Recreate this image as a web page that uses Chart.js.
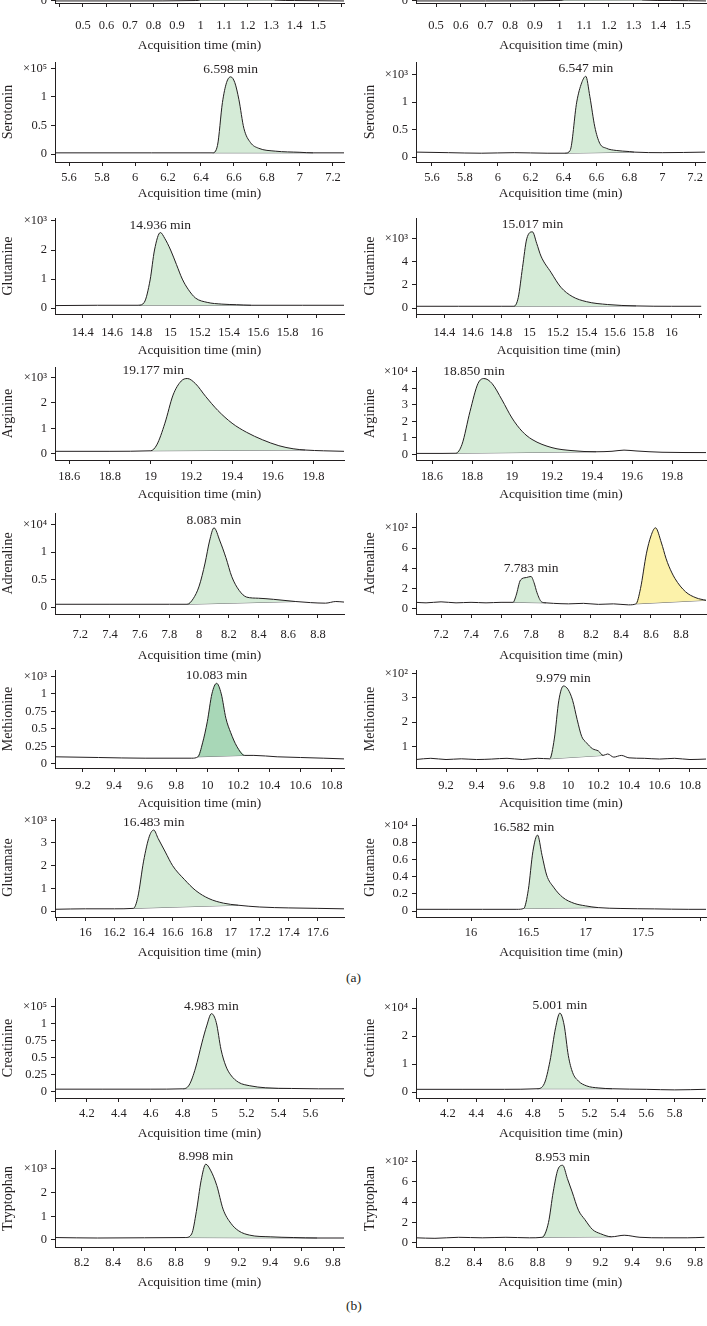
<!DOCTYPE html>
<html lang="en">
<head>
<meta charset="UTF-8">
<title>Chromatograms</title>
<script src="https://cdn.jsdelivr.net/npm/chart.js"></script>
<style>
  body { margin: 0; background: #fff; width: 707px; height: 1326px; position: relative; overflow: hidden; }
  .tag { position: absolute; font: 13.5px "Liberation Serif", serif; color: #231f20; }
</style>
</head>
<body>
<div class="tag" style="left:346px;top:970px">(a)</div>
<div class="tag" style="left:346px;top:1298px">(b)</div>
<script>
// retention time (min) and intensity (in units of the axis multiplier)
const topA_t = [0.381, 0.7, 0.98, 1.0, 1.04, 1.08, 1.12, 1.17, 1.22, 1.27, 1.3, 1.32, 1.4, 1.61];
const topA_y = [0, 0, 0.01, 0.04, 0.3, 1.5, 4, 6, 4, 1.2, 0.2, 0.02, 0.01, 0];
const topB_t = [0.419, 0.7, 0.99, 1.02, 1.06, 1.1, 1.14, 1.19, 1.24, 1.29, 1.32, 1.34, 1.45, 1.593];
const topB_y = [0, 0, 0.01, 0.04, 0.3, 1.5, 4, 6, 4, 1.2, 0.2, 0.02, 0.01, 0];
const topTicks = ['0.5', '0.6', '0.7', '0.8', '0.9', '1', '1.1', '1.2', '1.3', '1.4', '1.5'];

const serotoninA_t = [5.515, 5.8, 6.1, 6.4, 6.47, 6.5, 6.53, 6.555, 6.58, 6.605, 6.63, 6.66, 6.7, 6.75, 6.85, 7.0, 7.08, 7.267];
const serotoninA_y = [0.02, 0.02, 0.02, 0.02, 0.02, 0.15, 0.9, 1.25, 1.35, 1.25, 0.95, 0.45, 0.2, 0.1, 0.05, 0.03, 0.02, 0.02];
const serotoninB_t = [5.503, 5.7, 5.9, 6.1, 6.3, 6.41, 6.44, 6.48, 6.51, 6.535, 6.56, 6.59, 6.62, 6.66, 6.72, 6.8, 6.83, 7.0, 7.26];
const serotoninB_y = [0.09, 0.08, 0.07, 0.08, 0.07, 0.07, 0.12, 1.0, 1.35, 1.47, 1.1, 0.55, 0.25, 0.16, 0.12, 0.1, 0.09, 0.08, 0.09];
const serotoninTicks = ['5.6', '5.8', '6', '6.2', '6.4', '6.6', '6.8', '7', '7.2'];

const glutamineA_t = [14.21, 14.5, 14.78, 14.82, 14.86, 14.89, 14.93, 14.96, 15.0, 15.04, 15.08, 15.12, 15.17, 15.25, 15.35, 15.45, 15.55, 15.9, 16.185];
const glutamineA_y = [0.09, 0.1, 0.1, 0.2, 0.97, 2.0, 2.6, 2.4, 2.0, 1.5, 1.0, 0.65, 0.35, 0.2, 0.14, 0.12, 0.1, 0.1, 0.1];
const glutamineB_t = [14.2, 14.5, 14.8, 14.89, 14.92, 14.95, 14.98, 15.02, 15.05, 15.08, 15.15, 15.22, 15.3, 15.4, 15.55, 15.75, 16.0, 16.21];
const glutamineB_y = [0.15, 0.15, 0.15, 0.15, 0.9, 3.5, 6.0, 6.6, 5.6, 4.5, 3.1, 1.8, 1.0, 0.55, 0.3, 0.18, 0.15, 0.15];
const glutamineTicks = ['14.4', '14.6', '14.8', '15', '15.2', '15.4', '15.6', '15.8', '16'];

const arginineA_t = [18.53, 18.8, 19.0, 19.03, 19.07, 19.11, 19.15, 19.18, 19.22, 19.27, 19.33, 19.4, 19.47, 19.55, 19.63, 19.7, 19.76, 19.85, 19.95];
const arginineA_y = [0.1, 0.1, 0.12, 0.35, 1.2, 2.3, 2.85, 2.95, 2.75, 2.25, 1.7, 1.2, 0.85, 0.55, 0.32, 0.2, 0.15, 0.12, 0.1];
const arginineB_t = [18.52, 18.65, 18.72, 18.75, 18.79, 18.83, 18.86, 18.9, 18.95, 19.0, 19.05, 19.1, 19.2, 19.3, 19.42, 19.5, 19.56, 19.62, 19.75, 19.97];
const arginineB_y = [0.05, 0.05, 0.06, 0.6, 2.6, 4.3, 4.6, 4.3, 3.3, 2.2, 1.4, 0.9, 0.4, 0.22, 0.15, 0.18, 0.25, 0.2, 0.12, 0.1];
const arginineTicks = ['18.6', '18.8', '19', '19.2', '19.4', '19.6', '19.8'];

const adrenalineA_t = [7.03, 7.4, 7.8, 7.92, 7.96, 8.0, 8.04, 8.07, 8.1, 8.14, 8.18, 8.22, 8.27, 8.32, 8.4, 8.5, 8.65, 8.75, 8.85, 8.92, 8.975];
const adrenalineA_y = [0.05, 0.05, 0.05, 0.05, 0.15, 0.38, 0.8, 1.2, 1.44, 1.2, 0.9, 0.55, 0.3, 0.18, 0.16, 0.14, 0.1, 0.08, 0.07, 0.1, 0.09];
const adrenalineB_t = [7.033, 7.1, 7.2, 7.3, 7.4, 7.5, 7.6, 7.68, 7.7, 7.73, 7.77, 7.8, 7.82, 7.84, 7.87, 7.9, 7.95, 8.05, 8.15, 8.25, 8.35, 8.45, 8.5, 8.53, 8.57, 8.6, 8.63, 8.67, 8.7, 8.72, 8.76, 8.83, 8.9, 8.967];
const adrenalineB_y = [0.65, 0.6, 0.7, 0.6, 0.65, 0.6, 0.65, 0.65, 1.3, 2.85, 3.1, 3.2, 2.6, 1.6, 0.7, 0.6, 0.55, 0.5, 0.55, 0.45, 0.5, 0.4, 0.5, 2.0, 5.5, 7.2, 8.0, 6.5, 5.0, 4.2, 3.0, 1.7, 1.1, 0.85];
const adrenalineTicks = ['7.2', '7.4', '7.6', '7.8', '8', '8.2', '8.4', '8.6', '8.8'];

const methionineA_t = [9.02, 9.3, 9.6, 9.9, 9.94, 9.97, 10.0, 10.03, 10.06, 10.09, 10.12, 10.15, 10.19, 10.24, 10.3, 10.45, 10.6, 10.75, 10.88];
const methionineA_y = [0.1, 0.09, 0.08, 0.08, 0.1, 0.3, 0.6, 1.0, 1.15, 1.0, 0.65, 0.45, 0.25, 0.12, 0.12, 0.1, 0.09, 0.08, 0.07];
const methionineB_t = [9.003, 9.1, 9.2, 9.3, 9.4, 9.5, 9.6, 9.7, 9.8, 9.88, 9.91, 9.94, 9.97, 10.0, 10.03, 10.06, 10.09, 10.12, 10.16, 10.2, 10.23, 10.26, 10.3, 10.35, 10.4, 10.5, 10.6, 10.7, 10.8, 10.905];
const methionineB_y = [0.45, 0.5, 0.45, 0.48, 0.45, 0.47, 0.5, 0.45, 0.5, 0.48, 1.3, 2.9, 3.49, 3.35, 2.9, 2.1, 1.4, 1.15, 0.9, 0.8, 0.62, 0.68, 0.55, 0.62, 0.52, 0.5, 0.47, 0.5, 0.45, 0.47];
const methionineTicks = ['9.2', '9.4', '9.6', '9.8', '10', '10.2', '10.4', '10.6', '10.8'];

const glutamateA_t = [15.79, 16.0, 16.2, 16.33, 16.36, 16.4, 16.44, 16.47, 16.5, 16.55, 16.6, 16.68, 16.76, 16.85, 16.95, 17.05, 17.2, 17.4, 17.6, 17.78];
const glutamateA_y = [0.08, 0.1, 0.1, 0.12, 0.6, 2.2, 3.3, 3.57, 3.2, 2.6, 2.0, 1.4, 0.9, 0.55, 0.35, 0.26, 0.18, 0.14, 0.12, 0.1];
const glutamateB_t = [15.52, 15.8, 16.1, 16.4, 16.46, 16.5, 16.54, 16.58, 16.62, 16.66, 16.72, 16.8, 16.9, 17.0, 17.11, 17.3, 17.6, 17.9, 18.05];
const glutamateB_y = [0.02, 0.02, 0.02, 0.02, 0.03, 0.25, 0.7, 0.89, 0.65, 0.42, 0.28, 0.16, 0.09, 0.06, 0.04, 0.03, 0.025, 0.02, 0.02];
const glutamateTicksA = ['16', '16.2', '16.4', '16.6', '16.8', '17', '17.2', '17.4', '17.6'];
const glutamateTicksB = ['16', '16.5', '17', '17.5'];

const creatinineA_t = [4.0, 4.3, 4.6, 4.8, 4.84, 4.88, 4.92, 4.95, 4.98, 5.01, 5.04, 5.07, 5.1, 5.15, 5.22, 5.32, 5.48, 5.65, 5.81];
const creatinineA_y = [0.04, 0.04, 0.04, 0.045, 0.1, 0.35, 0.72, 0.97, 1.15, 1.02, 0.62, 0.38, 0.25, 0.14, 0.09, 0.06, 0.05, 0.045, 0.045];
const creatinineB_t = [3.975, 4.3, 4.6, 4.83, 4.88, 4.92, 4.96, 4.99, 5.02, 5.05, 5.08, 5.12, 5.18, 5.26, 5.36, 5.6, 5.8, 6.02];
const creatinineB_y = [0.1, 0.1, 0.1, 0.12, 0.3, 1.1, 2.3, 2.82, 2.4, 1.3, 0.7, 0.4, 0.22, 0.15, 0.12, 0.1, 0.08, 0.1];
const creatinineTicksA = ['4.2', '4.4', '4.6', '4.8', '5', '5.2', '5.4', '5.6'];
const creatinineTicksB = ['4.2', '4.4', '4.6', '4.8', '5', '5.2', '5.4', '5.6', '5.8'];

const tryptophanA_t = [8.03, 8.3, 8.6, 8.86, 8.9, 8.93, 8.96, 8.99, 9.02, 9.06, 9.1, 9.15, 9.2, 9.27, 9.4, 9.55, 9.7, 9.87];
const tryptophanA_y = [0.1, 0.08, 0.09, 0.1, 0.25, 1.2, 2.5, 3.2, 2.95, 2.3, 1.3, 0.7, 0.38, 0.2, 0.13, 0.1, 0.08, 0.08];
const tryptophanB_t = [8.03, 8.15, 8.3, 8.45, 8.6, 8.75, 8.83, 8.87, 8.9, 8.93, 8.96, 8.99, 9.02, 9.06, 9.1, 9.15, 9.2, 9.27, 9.35, 9.45, 9.6, 9.75, 9.86];
const tryptophanB_y = [0.5, 0.45, 0.55, 0.5, 0.55, 0.5, 0.55, 2.0, 5.0, 7.2, 7.6, 6.3, 5.0, 3.2, 2.3, 1.3, 0.9, 0.6, 0.75, 0.55, 0.5, 0.5, 0.55];
const tryptophanTicks = ['8.2', '8.4', '8.6', '8.8', '9', '9.2', '9.4', '9.6', '9.8'];

// y tick labels
const yHalf = ['0', '0.5', '1'];
const yQuarter = ['0', '0.25', '0.5', '0.75', '1'];
const yFifth = ['0', '0.2', '0.4', '0.6', '0.8'];
const yOnes2 = ['0', '1', '2'];
const yOnes3 = ['0', '1', '2', '3'];
const yOnes4 = ['0', '1', '2', '3', '4'];
const yTwos4 = ['0', '2', '4'];
const yTwos6 = ['0', '2', '4', '6'];

const INK = '#231f20';
const BASE = '#6d6e71';
const GREEN = '#d5ebd7';
const DARKGREEN = '#a8d7b7';
const YELLOW = '#fcf2aa';
const FONT = '"Liberation Serif", "DejaVu Serif", serif';

// per-row geometry: plot top, x-axis line, tick label / title offsets below the axis
const ROWS = [
  { top: -40, axis: 3, lab: 22, tit: 42 },
  { top: 62, axis: 162, lab: 15, tit: 31 },
  { top: 218, axis: 314, lab: 18, tit: 36 },
  { top: 367, axis: 460, lab: 16, tit: 34 },
  { top: 513, axis: 614, lab: 20, tit: 41 },
  { top: 670, axis: 768, lab: 17, tit: 35 },
  { top: 818, axis: 917, lab: 15, tit: 35 },
  { top: 998, axis: 1098, lab: 15, tit: 35 },
  { top: 1150, axis: 1247, lab: 15, tit: 35 }
];

const panels = [
  { row: 0, col: 0, t: topA_t, v: topA_y, x: [0.381, 1.61, 0.1], xl: topTicks, y: [-0.05, 1, 1], yl: ['0'], peaks: [[0.98, 1.32, GREEN]] },
  { row: 0, col: 1, t: topB_t, v: topB_y, x: [0.419, 1.593, 0.1], xl: topTicks, y: [-0.05, 1, 1], yl: ['0'], peaks: [[0.99, 1.34, GREEN]] },
  { row: 1, col: 0, name: 'Serotonin', t: serotoninA_t, v: serotoninA_y, x: [5.515, 7.267, 0.2], xl: serotoninTicks, y: [-0.14, 1.61, 0.5], yl: yHalf, exp: [1.5, '×10⁵'], peaks: [[6.47, 7.08, GREEN]], label: ['6.598 min', 0] },
  { row: 1, col: 1, name: 'Serotonin', t: serotoninB_t, v: serotoninB_y, x: [5.503, 7.26, 0.2], xl: serotoninTicks, y: [-0.09, 1.73, 0.5], yl: yHalf, exp: [1.5, '×10³'], peaks: [[6.41, 6.83, GREEN]], label: ['6.547 min', 0] },
  { row: 2, col: 0, name: 'Glutamine', t: glutamineA_t, v: glutamineA_y, x: [14.21, 16.185, 0.2], xl: glutamineTicks, y: [-0.2, 3.1, 1], yl: yOnes2, exp: [3, '×10³'], peaks: [[14.78, 15.55, GREEN]], label: ['14.936 min', 0] },
  { row: 2, col: 1, name: 'Glutamine', t: glutamineB_t, v: glutamineB_y, x: [14.2, 16.21, 0.2], xl: glutamineTicks, y: [-0.52, 7.8, 2], yl: yTwos4, exp: [6, '×10³'], peaks: [[14.89, 15.75, GREEN]], label: ['15.017 min', 0] },
  { row: 3, col: 0, name: 'Arginine', t: arginineA_t, v: arginineA_y, x: [18.53, 19.95, 0.2], xl: arginineTicks, y: [-0.24, 3.4, 1], yl: yOnes2, exp: [3, '×10³'], peaks: [[19.0, 19.76, GREEN]], label: ['19.177 min', -34] },
  { row: 3, col: 1, name: 'Arginine', t: arginineB_t, v: arginineB_y, x: [18.52, 19.97, 0.2], xl: arginineTicks, y: [-0.35, 5.3, 1], yl: yOnes4, exp: [5, '×10⁴'], peaks: [[18.72, 19.42, GREEN]], label: ['18.850 min', -10] },
  { row: 4, col: 0, name: 'Adrenaline', t: adrenalineA_t, v: adrenalineA_y, x: [7.03, 8.975, 0.2], xl: adrenalineTicks, y: [-0.127, 1.71, 0.5], yl: yHalf, exp: [1.5, '×10⁴'], peaks: [[7.92, 8.65, GREEN]], label: ['8.083 min', 0] },
  { row: 4, col: 1, name: 'Adrenaline', t: adrenalineB_t, v: adrenalineB_y, x: [7.033, 8.967, 0.2], xl: adrenalineTicks, y: [-0.5, 9.46, 2], yl: yTwos6, exp: [8, '×10²'], peaks: [[7.68, 7.9, GREEN], [8.5, 8.967, YELLOW]], label: ['7.783 min', 0] },
  { row: 5, col: 0, name: 'Methionine', t: methionineA_t, v: methionineA_y, x: [9.02, 10.88, 0.2], xl: methionineTicks, y: [-0.06, 1.34, 0.25], yl: yQuarter, exp: [1.25, '×10³'], peaks: [[9.94, 10.24, DARKGREEN]], label: ['10.083 min', 0] },
  { row: 5, col: 1, name: 'Methionine', t: methionineB_t, v: methionineB_y, x: [9.003, 10.905, 0.2], xl: methionineTicks, y: [0.1, 4.15, 1], yl: ['1', '2', '3'], exp: [4, '×10²'], peaks: [[9.88, 10.23, GREEN]], label: ['9.979 min', 0] },
  { row: 6, col: 0, name: 'Glutamate', t: glutamateA_t, v: glutamateA_y, x: [15.79, 17.78, 0.2], xl: glutamateTicksA, y: [-0.26, 4.1, 1], yl: yOnes3, exp: [4, '×10³'], peaks: [[16.33, 17.05, GREEN]], label: ['16.483 min', 0] },
  { row: 6, col: 1, name: 'Glutamate', t: glutamateB_t, v: glutamateB_y, x: [15.52, 18.05, 0.5], xl: glutamateTicksB, y: [-0.07, 1.09, 0.2], yl: yFifth, exp: [1, '×10⁴'], peaks: [[16.46, 17.11, GREEN]], label: ['16.582 min', -14] },
  { row: 7, col: 0, name: 'Creatinine', t: creatinineA_t, v: creatinineA_y, x: [4.0, 5.81, 0.2], xl: creatinineTicksA, y: [-0.09, 1.38, 0.25], yl: yQuarter, exp: [1.25, '×10⁵'], peaks: [[4.8, 5.48, GREEN]], label: ['4.983 min', 0] },
  { row: 7, col: 1, name: 'Creatinine', t: creatinineB_t, v: creatinineB_y, x: [3.975, 6.02, 0.2], xl: creatinineTicksB, y: [-0.21, 3.36, 1], yl: yOnes2, exp: [3, '×10⁴'], peaks: [[4.83, 5.36, GREEN]], label: ['5.001 min', 0] },
  { row: 8, col: 0, name: 'Tryptophan', t: tryptophanA_t, v: tryptophanA_y, x: [8.03, 9.87, 0.2], xl: tryptophanTicks, y: [-0.3, 3.8, 1], yl: yOnes2, exp: [3, '×10³'], peaks: [[8.86, 9.7, GREEN]], label: ['8.998 min', 0] },
  { row: 8, col: 1, name: 'Tryptophan', t: tryptophanB_t, v: tryptophanB_y, x: [8.03, 9.86, 0.2], xl: tryptophanTicks, y: [-0.4, 9.1, 2], yl: yTwos6, exp: [8, '×10²'], peaks: [[8.83, 9.27, GREEN]], label: ['8.953 min', 0] }
];

const fmt = v => String(Math.round(v * 100) / 100);

// writes the retention time above the first integrated peak
const peakLabel = {
  id: 'peakLabel',
  afterDatasetsDraw(chart, args, opts) {
    if (!opts.text) return;
    const { ctx, scales } = chart;
    const seg = chart.data.datasets[1].data;
    let top = seg[0];
    seg.forEach(q => { if (q.y > top.y) top = q; });
    ctx.save();
    ctx.font = '13.5px ' + FONT;
    ctx.fillStyle = INK;
    ctx.textAlign = 'center';
    ctx.textBaseline = 'alphabetic';
    ctx.fillText(opts.text, scales.x.getPixelForValue(top.x) + opts.dx, scales.y.getPixelForValue(top.y) - 4);
    ctx.restore();
  }
};

function drawPanel(p) {
  const r = ROWS[p.row];
  const left = p.col ? 353 : 0;
  const w = p.col ? 354 : 353;
  const axisLeft = p.col ? 63 : 55;
  const plotRight = p.col ? 353 : 344;
  const pad = 14, xh = 55;
  const top = r.top - pad;
  const h = r.axis - top + xh;

  const cv = document.createElement('canvas');
  cv.width = w;
  cv.height = h;
  cv.style.cssText = `position:absolute;left:${left}px;top:${top}px;width:${w}px;height:${h}px`;
  document.body.appendChild(cv);

  const pts = p.t.map((t, i) => ({ x: t, y: p.v[i] }));
  const datasets = [{ data: pts, borderColor: INK, borderWidth: 1, pointRadius: 0, fill: false, cubicInterpolationMode: 'monotone' }];
  p.peaks.forEach(([a, b, colr]) => {
    const seg = pts.filter(q => q.x >= a - 1e-9 && q.x <= b + 1e-9).map(q => ({ x: q.x, y: q.y }));
    datasets.push({ data: seg, borderColor: 'rgba(0,0,0,0)', borderWidth: 0, backgroundColor: colr, pointRadius: 0, fill: '+1', cubicInterpolationMode: 'monotone' });
    datasets.push({ data: [{ ...seg[0] }, { ...seg[seg.length - 1] }], borderColor: BASE, borderWidth: 1, pointRadius: 0, fill: false });
  });

  const tickFont = { family: FONT, size: 12.5 };
  new Chart(cv, {
    type: 'line',
    data: { datasets },
    plugins: [peakLabel],
    options: {
      responsive: false,
      animation: false,
      events: [],
      devicePixelRatio: 1,
      layout: { padding: { top: pad, right: w - plotRight, left: 0, bottom: 0 } },
      plugins: {
        legend: { display: false },
        tooltip: { enabled: false },
        peakLabel: p.label ? { text: p.label[0], dx: p.label[1] } : {}
      },
      scales: {
        x: {
          type: 'linear',
          min: p.x[0],
          max: p.x[1],
          afterFit: s => { s.height = xh; },
          border: { color: INK, width: 1 },
          grid: { drawOnChartArea: false, drawTicks: true, tickLength: 4, color: INK },
          ticks: {
            stepSize: p.x[2], includeBounds: false, autoSkip: false, maxRotation: 0,
            padding: r.lab - 4 - 7, color: INK, font: tickFont,
            callback: v => p.xl.includes(fmt(v)) ? fmt(v) : ''
          },
          title: {
            display: true, text: 'Acquisition time (min)', color: INK,
            font: { family: FONT, size: 13.5 }, padding: { top: 0, bottom: xh - r.tit - 8.1 }
          }
        },
        y: {
          min: p.y[0],
          max: p.y[1],
          afterFit: s => { s.width = axisLeft; },
          border: { color: INK, width: 1 },
          grid: { drawOnChartArea: false, drawTicks: true, tickLength: 4, color: INK },
          ticks: {
            stepSize: p.y[2], includeBounds: false, autoSkip: false, padding: 4, color: INK, font: tickFont,
            callback: v => (p.exp && Math.abs(v - p.exp[0]) < 1e-6) ? p.exp[1] : (p.yl.includes(fmt(v)) ? fmt(v) : '')
          },
          title: {
            display: !!p.name, text: p.name || '', color: INK,
            font: { family: FONT, size: 14 }, padding: { top: p.col ? 9 : 0, bottom: 0 }
          }
        }
      }
    }
  });
}

panels.forEach(drawPanel);
</script>
</body>
</html>
